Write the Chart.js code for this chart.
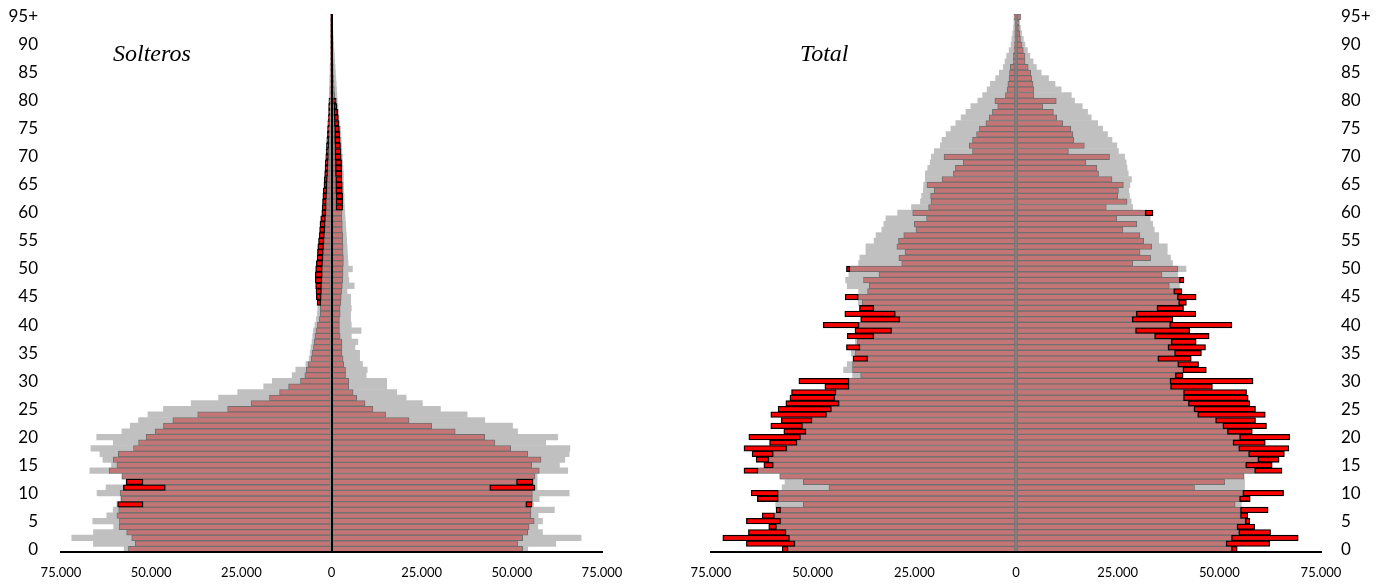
<!DOCTYPE html>
<html>
<head>
<meta charset="utf-8">
<script src="https://cdn.jsdelivr.net/npm/chart.js@4.4.1/dist/chart.umd.min.js"></script>
<style>
  body { margin: 0; background: #fff; width: 1391px; height: 586px; position: relative; overflow: hidden; }
  .box { position: absolute; top: 0; }
  .title { position: absolute; font-family: "Liberation Serif", "DejaVu Serif", serif; font-style: italic; font-size: 24px; line-height: 24px; color: #000; }
</style>
</head>
<body>
<div class="box" style="left:0"><canvas id="solteros" width="640" height="586"></canvas></div>
<div class="box" style="left:650px"><canvas id="total" width="741" height="586"></canvas></div>
<div class="title" style="left:113px; top:41px">Solteros</div>
<div class="title" style="left:800px; top:41px">Total</div>
<script>
// ages 0..94 and 95+
const ages = Array.from({ length: 96 }, (_, i) => (i === 95 ? '95+' : String(i)));
const n = null;

// values in thousands; grey = light bars, base = rosy bars, top = end of red bar (starts at base)
// Solteros
const solMenGrey = [
    57.5, 66.0, 72.0, 66.0, 60.4, 66.2, 62.3, 60.5, 59.5, 58.5,
    65.0, 62.5, 57.0, 58.1, 67.0, 61.0, 63.4, 64.2, 66.7, 60.5,
    65.1, 58.1, 55.8, 53.5, 50.9, 46.6, 38.9, 31.3, 26.0, 18.8,
    16.4, 10.9, 9.9, 7.1, 6.2, 5.9, 5.7, 5.4, 5.2, 5.0,
    4.6, 4.2, 3.9, 3.8, 3.6, 3.5, 3.5, 3.4, 3.3, 3.2,
    3.1, 3.0, 2.9, 2.8, 2.7, 2.6, 2.5, 2.4, 2.3, 2.2,
    2.1, 2.0, 1.9, 1.9, 1.8, 1.8, 1.7, 1.6, 1.6, 1.5,
    1.4, 1.3, 1.3, 1.2, 1.1, 1.0, 1.0, 0.9, 0.8, 0.8,
    0.7, 0.6, 0.6, 0.5, 0.5, 0.4, 0.4, 0.3, 0.3, 0.3,
    0.2, 0.2, 0.2, 0.1, 0.1, 0.2
];
const solMenBase = [
    56.3, 54.4, 55.4, 56.8, 58.9, 58.8, 59.5, 59.0, 52.3, 58.3,
    58.6, 46.1, 52.3, 58.1, 61.6, 59.5, 60.5, 59.1, 54.9, 53.5,
    51.4, 48.9, 46.6, 44.0, 37.1, 28.8, 22.3, 17.2, 14.4, 11.9,
    8.6, 7.4, 7.0, 6.5, 5.6, 5.4, 5.0, 4.8, 4.6, 4.3,
    3.9, 3.4, 3.1, 3.1, 3.0, 2.9, 2.8, 2.8, 2.7, 2.6,
    2.6, 2.5, 2.4, 2.3, 2.2, 2.1, 2.0, 1.9, 1.8, 1.7,
    1.6, 1.5, 1.5, 1.4, 1.3, 1.3, 1.2, 1.1, 1.1, 1.0,
    0.9, 0.9, 0.8, 0.8, 0.7, 0.7, 0.6, 0.6, 0.5, 0.5,
    0.4, 0.4, 0.4, 0.3, 0.3, 0.3, 0.2, 0.2, 0.2, 0.2,
    0.1, 0.1, 0.1, 0.1, 0.1, 0.2
];
const solMenTop = [
    n, n, n, n, n, n, n, n, 59.3, n,
    n, 57.7, 56.9, n, n, n, n, n, n, n,
    n, n, n, n, n, n, n, n, n, n,
    n, n, n, n, n, n, n, n, n, n,
    n, n, n, n, 4.0, 4.2, 4.3, 4.4, 4.5, 4.5,
    4.4, 4.2, 4.0, 3.9, 3.8, 3.6, 3.4, 3.3, 3.2, 3.0,
    2.7, 2.6, 2.5, 2.4, 2.3, 2.1, 2.0, 1.9, 1.8, 1.7,
    1.6, 1.5, 1.4, 1.3, 1.2, 1.1, 1.0, 0.9, 0.8, 0.8,
    0.7, n, n, n, n, n, n, n, n, n,
    n, n, n, n, n, n
];
const solWomenGrey = [
    54.4, 62.2, 69.2, 58.5, 57.2, 58.5, 57.3, 61.8, 56.0, 57.6,
    65.9, 57.0, 57.0, 57.0, 65.5, 63.2, 64.7, 65.9, 66.1, 59.4,
    62.7, 51.6, 50.2, 42.5, 37.6, 30.2, 25.2, 20.7, 18.1, 15.3,
    15.3, 9.6, 9.9, 8.6, 7.8, 7.8, 6.5, 7.3, 5.5, 8.2,
    5.5, 5.3, 5.3, 5.5, 5.3, 5.3, 4.3, 6.3, 4.8, 4.6,
    5.8, 4.6, 4.5, 4.4, 4.3, 4.2, 4.1, 4.0, 3.9, 3.8,
    3.7, 3.6, 3.5, 3.5, 3.4, 3.4, 3.3, 3.3, 3.2, 3.1,
    3.0, 2.9, 2.8, 2.7, 2.6, 2.5, 2.3, 2.1, 2.0, 1.8,
    1.6, 1.5, 1.4, 1.3, 1.2, 1.1, 1.0, 0.9, 0.8, 0.7,
    0.6, 0.5, 0.4, 0.3, 0.3, 0.3
];
const solWomenBase = [
    53.0, 51.6, 53.0, 54.4, 54.8, 56.2, 55.3, 55.3, 53.9, 55.7,
    55.7, 43.9, 51.3, 56.4, 57.6, 55.5, 58.1, 54.4, 49.7, 45.3,
    42.5, 34.3, 27.8, 21.5, 15.0, 11.5, 9.3, 7.0, 6.0, 4.8,
    4.8, 3.9, 3.9, 3.4, 3.2, 2.9, 2.9, 2.9, 2.4, 2.2,
    2.2, 2.2, 2.4, 2.4, 2.6, 2.7, 2.8, 3.0, 3.1, 3.2,
    3.2, 3.3, 3.3, 3.2, 3.2, 3.1, 3.1, 3.0, 3.0, 2.9,
    2.9, 1.3, 1.3, 1.3, 1.2, 1.2, 1.2, 1.1, 1.1, 1.1,
    1.0, 1.0, 1.0, 0.9, 0.9, 0.9, 0.8, 0.8, 0.7, 0.7,
    0.6, 0.9, 0.8, 0.7, 0.6, 0.5, 0.5, 0.4, 0.3, 0.3,
    0.3, 0.2, 0.2, 0.2, 0.1, 0.2
];
const solWomenTop = [
    n, n, n, n, n, n, n, n, 55.6, n,
    n, 56.4, 55.9, n, n, n, n, n, n, n,
    n, n, n, n, n, n, n, n, n, n,
    n, n, n, n, n, n, n, n, n, n,
    n, n, n, n, n, n, n, n, n, n,
    n, n, n, n, n, n, n, n, n, n,
    n, 3.1, 3.1, 3.1, 3.0, 3.0, 2.9, 2.9, 2.8, 2.8,
    2.7, 2.6, 2.5, 2.4, 2.3, 2.2, 2.0, 1.9, 1.7, 1.5,
    1.3, n, n, n, n, n, n, n, n, n,
    n, n, n, n, n, n
];

// Total
const totMenGrey = [
    56.0, 54.0, 55.5, 56.5, 58.5, 57.5, 59.0, 57.5, 59.1, 58.0,
    58.0, 57.5, 56.8, 58.0, 63.0, 59.5, 60.5, 59.5, 56.0, 53.5,
    52.5, 51.5, 52.0, 50.0, 46.5, 45.0, 43.5, 44.5, 44.0, 41.0,
    41.0, 40.2, 42.4, 41.5, 38.5, 40.5, 39.0, 39.5, 38.0, 37.5,
    39.0, 37.0, 38.0, 38.0, 38.8, 39.0, 38.7, 41.5, 41.9, 41.1,
    40.5, 38.7, 38.4, 36.9, 36.9, 34.9, 34.4, 33.0, 32.5, 32.0,
    29.1, 25.7, 23.5, 23.2, 22.8, 22.7, 22.3, 22.3, 21.7, 21.1,
    20.8, 20.1, 18.6, 18.2, 17.2, 16.0, 14.8, 13.5, 12.3, 11.1,
    9.4, 8.2, 7.1, 6.3, 5.0, 4.1, 3.1, 2.7, 2.3, 1.7,
    1.2, 1.0, 0.8, 0.6, 0.5, 0.5
];
const totMenBase = [
    56.1, 54.4, 55.7, 56.6, 58.9, 57.9, 59.4, 57.9, 52.3, 58.5,
    58.5, 46.0, 52.3, 58.1, 63.5, 59.7, 60.8, 59.7, 56.4, 53.9,
    53.0, 51.7, 52.5, 50.2, 46.6, 45.4, 43.5, 44.6, 44.3, 41.1,
    41.1, 38.2, 40.2, 40.2, 36.5, 39.5, 38.4, 39.0, 35.0, 30.6,
    38.6, 28.6, 29.7, 35.0, 37.8, 38.8, 36.5, 36.1, 37.5, 33.7,
    40.9, 28.1, 28.8, 27.3, 29.3, 28.9, 27.6, 24.6, 25.0, 22.0,
    25.4, 21.5, 20.9, 21.0, 20.1, 21.9, 18.2, 15.4, 14.9, 13.0,
    17.7, 10.7, 11.5, 10.7, 9.7, 9.0, 7.4, 6.6, 5.8, 4.5,
    5.2, 2.6, 2.2, 2.0, 1.7, 1.6, 1.4, 0.7, 0.7, 0.5,
    0.4, 0.3, 0.3, 0.2, 0.2, 0.4
];
const totMenTop = [
    57.5, 66.3, 72.1, 65.8, 60.8, 66.3, 62.4, 59.0, n, 63.6,
    65.1, n, n, n, 66.9, 62.0, 63.9, 64.9, 66.9, 60.6,
    65.7, 57.1, 60.3, 57.7, 60.3, 58.5, 56.6, 55.6, 55.2, 47.0,
    53.4, n, n, n, 40.1, n, 41.7, n, 41.5, 39.6,
    47.4, 38.2, 42.1, 38.5, n, 42.0, n, n, n, n,
    41.7, n, n, n, n, n, n, n, n, n,
    n, n, n, n, n, n, n, n, n, n,
    n, n, n, n, n, n, n, n, n, n,
    n, n, n, n, n, n, n, n, n, n,
    n, n, n, n, n, n
];
const totWomenGrey = [
    53.0, 51.5, 53.0, 54.5, 54.4, 56.0, 55.0, 55.0, 55.4, 55.0,
    55.5, 56.2, 56.2, 56.0, 58.5, 56.5, 59.0, 57.0, 54.5, 53.0,
    55.0, 52.0, 50.5, 49.0, 44.5, 43.5, 42.0, 41.0, 41.0, 38.0,
    38.0, 39.5, 41.0, 40.0, 38.5, 40.0, 39.0, 39.0, 38.5, 38.5,
    39.0, 38.5, 39.0, 39.5, 41.0, 41.0, 40.5, 40.2, 40.5, 39.8,
    41.8, 38.5, 38.0, 37.2, 37.2, 35.1, 35.1, 34.0, 33.6, 33.0,
    31.0, 28.7, 28.3, 27.9, 27.7, 28.0, 28.4, 27.6, 27.3, 27.1,
    26.7, 25.2, 24.8, 23.6, 22.5, 21.3, 20.1, 18.5, 17.6, 16.3,
    14.4, 13.6, 11.1, 9.6, 8.0, 6.2, 5.0, 4.2, 3.4, 2.8,
    2.2, 1.8, 1.4, 1.1, 0.9, 1.2
];
const totWomenBase = [
    53.0, 51.7, 53.0, 54.8, 54.4, 56.4, 55.2, 55.2, 53.9, 55.0,
    55.8, 43.9, 51.3, 56.1, 58.7, 56.5, 59.5, 57.2, 54.8, 53.4,
    55.0, 52.0, 50.9, 49.1, 44.7, 43.8, 42.4, 41.2, 41.2, 38.0,
    37.9, 39.2, 41.1, 39.8, 34.9, 39.0, 37.4, 38.2, 34.1, 29.4,
    37.8, 28.6, 29.6, 34.7, 40.0, 39.7, 38.8, 37.7, 40.2, 35.9,
    39.8, 28.7, 33.1, 30.5, 33.4, 31.4, 30.5, 26.3, 29.7, 24.8,
    31.8, 22.2, 27.3, 25.0, 25.2, 26.4, 23.6, 20.3, 19.9, 17.2,
    23.0, 12.9, 16.8, 14.2, 14.0, 13.5, 11.5, 10.0, 9.2, 6.6,
    9.9, 4.4, 4.4, 4.2, 3.9, 3.6, 3.0, 2.2, 2.2, 1.8,
    1.5, 1.1, 0.9, 0.8, 0.7, 1.1
];
const totWomenTop = [
    54.4, 62.4, 69.4, 62.6, 58.7, 57.5, 57.0, 62.0, n, 57.6,
    65.8, n, n, n, 65.4, 63.0, 64.7, 66.0, 67.1, 61.3,
    67.3, 58.1, 61.6, 58.9, 61.3, 58.9, 57.5, 57.1, 56.7, 48.3,
    58.3, 41.1, 46.8, 44.9, 43.1, 45.6, 46.6, 44.3, 47.5, 42.7,
    53.1, 38.6, 44.2, 41.2, 41.9, 44.3, 40.8, n, 41.3, n,
    n, n, n, n, n, n, n, n, n, n,
    33.7, n, n, n, n, n, n, n, n, n,
    n, n, n, n, n, n, n, n, n, n,
    n, n, n, n, n, n, n, n, n, n,
    n, n, n, n, n, n
];

const xTicks = [-75, -50, -25, 0, 25, 50, 75];

const GREY = 'rgb(192,192,192)';
const ROSY = 'rgb(196,117,117)';
const ROSY_EDGE = 'rgb(112,112,112)';
const RED = '#ff0000';
const TICK_FONT = 'Lato, Calibri, "Open Sans", sans-serif';

function barDefaults(extra) {
    return Object.assign({
        grouped: false,
        barPercentage: 1,
        categoryPercentage: 1,
        borderSkipped: false
    }, extra);
}

function buildDatasets(d) {
    const neg = arr => arr.map(v => (v == null ? null : -v));
    const redMen = d.menTop.map((t, i) => (t == null ? null : [-t, -d.menBase[i]]));
    const redWomen = d.womenTop.map((t, i) => (t == null ? null : [d.womenBase[i], t]));
    return [
        barDefaults({ data: neg(d.menGrey), backgroundColor: GREY, borderWidth: 0, order: 3 }),
        barDefaults({ data: d.womenGrey, backgroundColor: GREY, borderWidth: 0, order: 3 }),
        barDefaults({ data: neg(d.menBase), backgroundColor: ROSY, borderColor: ROSY_EDGE, borderWidth: 1, order: 2 }),
        barDefaults({ data: d.womenBase, backgroundColor: ROSY, borderColor: ROSY_EDGE, borderWidth: 1, order: 2 }),
        barDefaults({ data: redMen, backgroundColor: RED, borderColor: '#000', borderWidth: 1.3, order: 1 }),
        barDefaults({ data: redWomen, backgroundColor: RED, borderColor: '#000', borderWidth: 1.3, order: 1 })
    ];
}

function makePyramid(canvasId, d, cfg) {
    const ctx = document.getElementById(canvasId).getContext('2d');
    return new Chart(ctx, {
        type: 'bar',
        data: { labels: ages, datasets: buildDatasets(d) },
        options: {
            indexAxis: 'y',
            responsive: false,
            animation: false,
            events: [],
            layout: { padding: cfg.padding },
            plugins: { legend: { display: false }, tooltip: { enabled: false } },
            scales: {
                x: {
                    type: 'linear',
                    min: -75,
                    max: 75,
                    z: 1,
                    afterBuildTicks: s => { s.ticks = xTicks.map(v => ({ value: v })); },
                    afterFit: s => { s.height = 34; },
                    ticks: {
                        padding: 13,
                        color: '#000',
                        font: { family: TICK_FONT, size: 13 },
                        callback: v => (v === 0 ? '0' : Math.abs(v) + '.000')
                    },
                    grid: {
                        z: 1, // zero line sits on top of the bars
                        drawTicks: false,
                        lineWidth: 2,
                        color: c => (c.tick && c.tick.value === 0 ? cfg.zeroColor : 'rgba(0,0,0,0)')
                    },
                    border: { display: true, color: '#000', width: 2, z: 1 }
                },
                y: {
                    type: 'category',
                    reverse: true,
                    position: cfg.yPos,
                    afterFit: s => {
                        s.width = cfg.yWidth;
                        // keep the plot top where the layout padding puts it
                        s.paddingTop = 0;
                        s.paddingBottom = 0;
                    },
                    grid: { display: false, drawTicks: false },
                    border: { display: false },
                    ticks: {
                        autoSkip: false,
                        padding: cfg.yPad,
                        color: '#000',
                        font: { family: TICK_FONT, size: 17 },
                        callback: (v, i) => (i % 5 === 0 ? ages[i] : null)
                    }
                }
            }
        }
    });
}

makePyramid('solteros', {
    menGrey: solMenGrey, menBase: solMenBase, menTop: solMenTop,
    womenGrey: solWomenGrey, womenBase: solWomenBase, womenTop: solWomenTop
}, { padding: { top: 14, right: 38, left: 0, bottom: 0 }, yPos: 'left', yWidth: 61, yPad: 23, zeroColor: '#000' });

makePyramid('total', {
    menGrey: totMenGrey, menBase: totMenBase, menTop: totMenTop,
    womenGrey: totWomenGrey, womenBase: totWomenBase, womenTop: totWomenTop
}, { padding: { top: 14, right: 0, left: 61, bottom: 0 }, yPos: 'right', yWidth: 70, yPad: 20, zeroColor: '#808080' });
</script>
</body>
</html>
